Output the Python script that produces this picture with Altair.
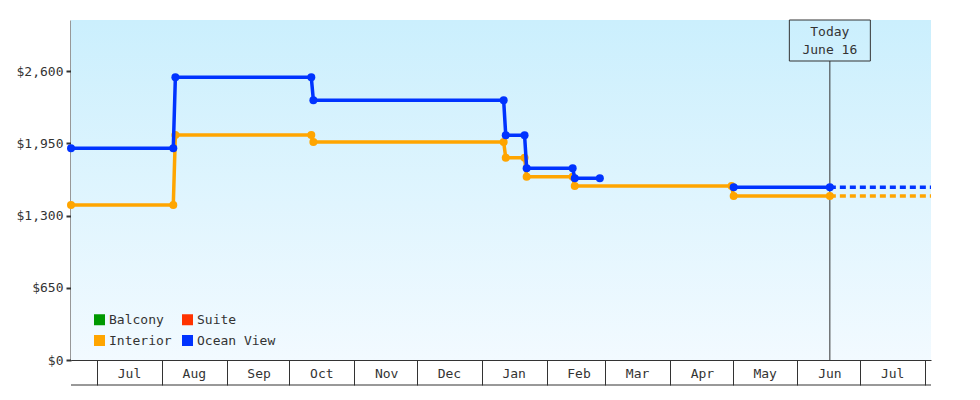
import altair as alt
import pandas as pd

# ---- data ----
cabins = ["Balcony", "Interior", "Suite", "Ocean View"]
cabin_colors = ["#009900", "#ffa500", "#ff3300", "#0033ff"]

ocean_start = ["2024-06-18T14:00:00", "2024-08-07T12:00:00", "2024-10-12T12:00:00",
               "2025-01-12T12:00:00", "2025-01-22T12:00:00", "2025-02-14T12:00:00",
               "2025-05-01T12:00:00"]
ocean_end = ["2024-08-06T12:00:00", "2024-10-11T12:00:00", "2025-01-11T12:00:00",
             "2025-01-21T12:00:00", "2025-02-13T12:00:00", "2025-02-26T12:00:00",
             "2025-06-16T12:00:00"]
ocean_price = [1905, 2544, 2337, 2022, 1725, 1635, 1554]
ocean_seg = [1, 1, 1, 1, 1, 1, 2]

interior_start = ["2024-06-18T14:00:00", "2024-08-07T12:00:00", "2024-10-12T12:00:00",
                  "2025-01-12T12:00:00", "2025-01-22T12:00:00", "2025-02-14T12:00:00",
                  "2025-05-01T12:00:00"]
interior_end = ["2024-08-06T12:00:00", "2024-10-11T12:00:00", "2025-01-11T12:00:00",
                "2025-01-21T12:00:00", "2025-02-13T12:00:00", "2025-04-30T12:00:00",
                "2025-06-16T12:00:00"]
interior_price = [1395, 2025, 1962, 1821, 1650, 1565, 1476]
interior_seg = [1, 1, 1, 1, 1, 1, 1]

today = "2025-06-16T12:00:00"
today_label = ["Today", "June 16"]
x_start = "2024-06-18T14:00:00"
x_end = "2025-08-03T21:00:00"
y_ticks = [0, 650, 1300, 1950, 2600]
y_max = 3060

FONT = "DejaVu Sans Mono"
INK = "#333333"


def levels(cabin, starts, ends, prices, segs):
    rows = []
    for s, e, p, g in zip(starts, ends, prices, segs):
        rows.append({"date": s, "price": p, "cabin": cabin, "seg": g})
        rows.append({"date": e, "price": p, "cabin": cabin, "seg": g})
    return pd.DataFrame(rows)


ocean = levels("Ocean View", ocean_start, ocean_end, ocean_price, ocean_seg)
interior = levels("Interior", interior_start, interior_end, interior_price, interior_seg)

ocean_fut = pd.DataFrame({"date": [today, x_end], "price": [ocean_price[-1]] * 2,
                          "cabin": ["Ocean View"] * 2})
interior_fut = pd.DataFrame({"date": [today, x_end], "price": [interior_price[-1]] * 2,
                             "cabin": ["Interior"] * 2})


def dt(s):
    t = pd.Timestamp(s)
    return alt.DateTime(year=t.year, month=t.month, date=t.day, hours=t.hour, minutes=t.minute)


x_scale = alt.Scale(domain=[dt(x_start), dt(x_end)], nice=False)
y_scale = alt.Scale(domain=[0, y_max], nice=False)

x_axis = alt.Axis(
    title=None, tickCount={"interval": "month", "step": 1},
    labelExpr="(month(datum.value) == 7 && year(datum.value) == 2025) ? '' : timeFormat(datum.value, '%b')",
    tickSize=25, tickColor=INK, tickWidth=1, domainColor=INK, domainWidth=1,
    labelOffset=32, labelPadding=-12, labelBaseline="middle", labelAlign="center",
    labelFont=FONT, labelFontSize=13, labelColor=INK, labelFlush=False, labelOverlap=False,
    grid=False,
)
y_axis = alt.Axis(
    title=None, values=y_ticks, format="$,.0f", tickSize=5, tickWidth=2, tickColor=INK,
    domainColor=INK, domainWidth=2, labelFont=FONT, labelFontSize=13, labelColor=INK,
    labelPadding=3, grid=False,
)

legend = alt.Legend(
    title=None, orient="none", legendX=22, legendY=293, columns=2, symbolType="square",
    symbolSize=121, symbolStrokeWidth=0, symbolOpacity=1, labelFont=FONT, labelFontSize=13,
    labelColor=INK, labelOffset=3, columnPadding=9, rowPadding=7, padding=0,
)
color = alt.Color("cabin:N", scale=alt.Scale(domain=cabins, range=cabin_colors), legend=legend)

X = alt.X("date:T", scale=x_scale, axis=x_axis)
Y = alt.Y("price:Q", scale=y_scale, axis=y_axis)

bg = alt.Chart(pd.DataFrame({"k": [0]})).mark_rect(
    color=alt.Gradient(
        gradient="linear",
        stops=[alt.GradientStop(color="#cbeffd", offset=0),
               alt.GradientStop(color="#f2faff", offset=1)],
        x1=0, x2=0, y1=0, y2=1,
    )
).encode(x=alt.value(0), x2=alt.value("width"), y=alt.value(0), y2=alt.value("height"))

today_df = pd.DataFrame({"date": [today]})
today_rule = alt.Chart(today_df).mark_rule(color=INK, strokeWidth=1).encode(
    x=alt.X("date:T", scale=x_scale, axis=x_axis), y=alt.value(41), y2=alt.value("height"))
today_box = alt.Chart(today_df).mark_rect(width=81, fillOpacity=0, stroke=INK, strokeWidth=1).encode(
    x="date:T", y=alt.value(0), y2=alt.value(41))
today_text1 = alt.Chart(today_df).mark_text(font=FONT, fontSize=13, color=INK, baseline="middle").encode(
    x="date:T", y=alt.value(12), text=alt.value(today_label[0]))
today_text2 = alt.Chart(today_df).mark_text(font=FONT, fontSize=13, color=INK, baseline="middle").encode(
    x="date:T", y=alt.value(30), text=alt.value(today_label[1]))

def series(df, fut):
    pts = alt.Chart(df).mark_circle(size=64, opacity=1).encode(x=X, y=Y, color=color)
    ln = alt.Chart(df).mark_line(strokeWidth=3.5).encode(x=X, y=Y, color=color, detail="seg:N")
    dash = alt.Chart(fut).mark_line(strokeWidth=3.5, strokeDash=[6, 4]).encode(x=X, y=Y, color=color)
    return [pts, ln, dash]

bottom = alt.Chart(pd.DataFrame({"k": [0]})).mark_rule(color=INK, strokeWidth=1).encode(
    x=alt.value(0), x2=alt.value("width"), y=alt.value(365))

chart = alt.layer(
    bg, today_rule, *series(interior, interior_fut), *series(ocean, ocean_fut),
    today_box, today_text1, today_text2, bottom,
).properties(
    width=860, height=340,
    autosize=alt.AutoSizeParams(type="none"),
    padding={"left": 63, "top": 12, "right": 40, "bottom": 30},
).configure_view(strokeWidth=0)

chart.save("out.html", embed_options={"renderer": "svg", "actions": False})
